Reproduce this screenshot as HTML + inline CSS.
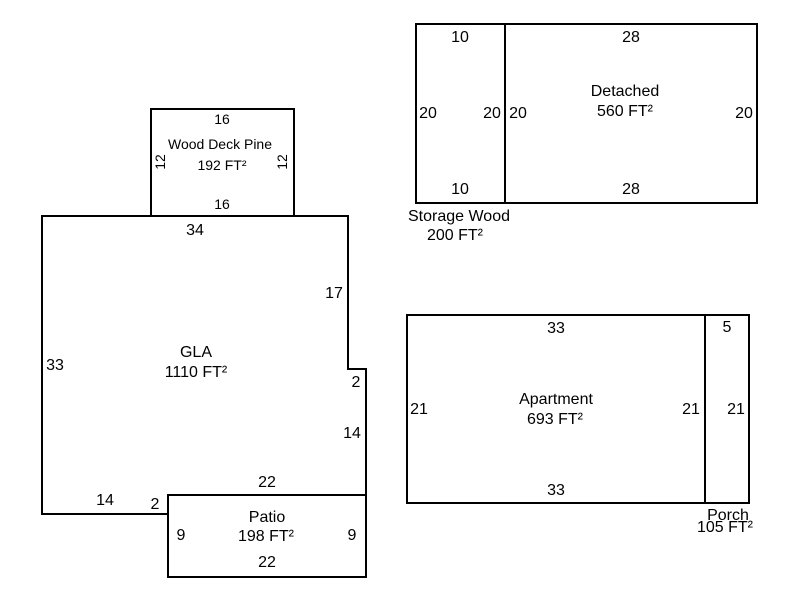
<!DOCTYPE html>
<html><head><style>
html,body{margin:0;padding:0;background:#fff;}
svg{display:block;}
text{font-family:"Liberation Sans",Arial,sans-serif;font-size:16px;fill:#000;text-anchor:middle;}
.s{font-size:14px;}
</style></head><body>
<svg width="800" height="600" viewBox="0 0 800 600" xmlns="http://www.w3.org/2000/svg">
<g fill="none" stroke="#000" stroke-width="2">
<rect x="151" y="109" width="143" height="107"/>
<polygon points="42,216 348,216 348,369 366,369 366,495 168,495 168,514 42,514"/>
<rect x="168" y="495" width="198" height="82"/>
<rect x="416" y="24" width="89" height="179"/>
<rect x="505" y="24" width="252" height="179"/>
<rect x="407" y="315" width="298" height="188"/>
<rect x="705" y="315" width="44" height="188"/>
</g>
<text class="s" x="222" y="124">16</text>
<text class="s" x="220" y="149">Wood Deck Pine</text>
<text class="s" x="222" y="170">192 FT²</text>
<text class="s" x="222" y="209">16</text>
<text class="s" transform="translate(165,162) rotate(-90)">12</text>
<text class="s" transform="translate(287,162) rotate(-90)">12</text>

<text x="195" y="235">34</text>
<text x="334" y="298">17</text>
<text x="55" y="370">33</text>
<text x="196" y="357">GLA</text>
<text x="196" y="377">1110 FT²</text>
<text x="356" y="387">2</text>
<text x="352" y="438">14</text>
<text x="267" y="487">22</text>
<text x="105" y="505">14</text>
<text x="155" y="509">2</text>
<text x="267" y="522">Patio</text>
<text x="266" y="541">198 FT²</text>
<text x="181" y="540">9</text>
<text x="352" y="540">9</text>
<text x="267" y="567">22</text>

<text x="460" y="42">10</text>
<text x="428" y="118">20</text>
<text x="492" y="118">20</text>
<text x="460" y="194">10</text>
<text x="459" y="221">Storage Wood</text>
<text x="455" y="240">200 FT²</text>
<text x="631" y="42">28</text>
<text x="518" y="118">20</text>
<text x="744" y="118">20</text>
<text x="625" y="96">Detached</text>
<text x="625" y="116">560 FT²</text>
<text x="631" y="194">28</text>

<text x="556" y="333">33</text>
<text x="419" y="414">21</text>
<text x="691" y="414">21</text>
<text x="556" y="404">Apartment</text>
<text x="555" y="424">693 FT²</text>
<text x="556" y="495">33</text>
<text x="727" y="332">5</text>
<text x="736" y="414">21</text>
<text x="728" y="520">Porch</text>
<text x="725" y="532">105 FT²</text>
</svg>
</body></html>
